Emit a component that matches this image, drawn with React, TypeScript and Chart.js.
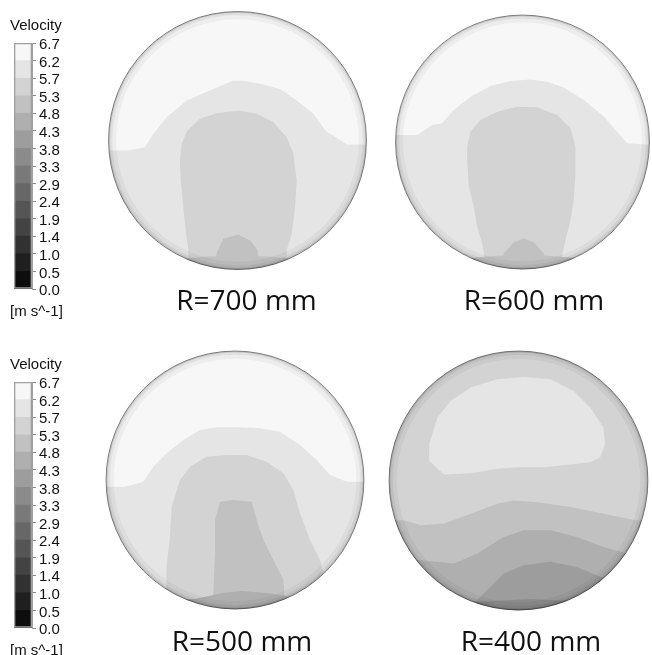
import React, { useEffect, useRef } from "react";
import { Chart, registerables } from "chart.js";

Chart.register(...registerables);

// ---------- colour bar data ----------
const levelValues = [0, 0.48, 0.96, 1.44, 1.91, 2.39, 2.87, 3.35, 3.83, 4.31, 4.79, 5.26, 5.74, 6.22, 6.7];
const tickLabels = ["0.0", "0.5", "1.0", "1.4", "1.9", "2.4", "2.9", "3.3", "3.8", "4.3", "4.8", "5.3", "5.7", "6.2", "6.7"];
const levelGreys = [13, 31, 49, 67, 85, 103, 121, 139, 157, 175, 193, 211, 229, 247];
const legendTitle = "Velocity";
const legendUnits = "[m s^-1]";

// ---------- contour data (unit-circle coordinates) ----------
type Pt = [number, number];

const panelLabels = ["R=700 mm", "R=600 mm", "R=500 mm", "R=400 mm"];
const panelBaseLevel = [12, 12, 12, 11];

const r700Crescent: Pt[] = [[-1.1, -0.078], [-0.846, -0.078], [-0.717, -0.052], [-0.652, 0.052], [-0.549, 0.181], [-0.394, 0.31], [-0.187, 0.4], [-0.032, 0.465], [0.071, 0.46], [0.174, 0.439], [0.329, 0.4], [0.459, 0.31], [0.588, 0.207], [0.691, 0.065], [0.743, 0.039], [0.846, -0.031], [1.1, -0.031], [1.1, 1.1], [-1.1, 1.1]];
const r700Head: Pt[] = [[-0.38, -1.1], [-0.381, -0.84], [-0.399, -0.724], [-0.42, -0.517], [-0.44, -0.31], [-0.446, -0.155], [-0.433, -0.026], [-0.389, 0.078], [-0.291, 0.168], [-0.161, 0.212], [0.006, 0.233], [0.149, 0.207], [0.278, 0.142], [0.381, 0.026], [0.433, -0.103], [0.459, -0.31], [0.446, -0.517], [0.42, -0.724], [0.381, -0.853], [0.38, -1.1]];
const r700Bump: Pt[] = [[-0.2, -1.1], [-0.161, -0.87], [-0.11, -0.762], [0.006, -0.728], [0.097, -0.775], [0.153, -0.845], [0.2, -1.1]];
const r700Bottom: Pt[] = [[-1.1, -0.96], [-0.45, -0.92], [-0.25, -0.9], [0, -0.895], [0.25, -0.9], [0.47, -0.92], [1.1, -0.96], [1.1, -1.1], [-1.1, -1.1]];

const r600Crescent: Pt[] = [[-1.1, 0.055], [-0.829, 0.055], [-0.711, 0.134], [-0.633, 0.147], [-0.541, 0.252], [-0.409, 0.357], [-0.252, 0.441], [-0.094, 0.48], [0.063, 0.493], [0.194, 0.475], [0.325, 0.43], [0.483, 0.331], [0.64, 0.2], [0.745, 0.081], [0.824, -0.01], [1.1, -0.03], [1.1, 1.1], [-1.1, 1.1]];
const r600Head: Pt[] = [[-0.29, -1.1], [-0.3, -0.9], [-0.318, -0.798], [-0.357, -0.667], [-0.383, -0.509], [-0.423, -0.352], [-0.436, -0.142], [-0.436, -0.037], [-0.41, 0.08], [-0.331, 0.173], [-0.199, 0.239], [-0.042, 0.278], [0.115, 0.273], [0.273, 0.213], [0.378, 0.108], [0.417, -0.037], [0.417, -0.247], [0.404, -0.457], [0.378, -0.614], [0.339, -0.772], [0.31, -0.9], [0.3, -1.1]];
const r600Bump: Pt[] = [[-0.2, -1.1], [-0.147, -0.877], [-0.068, -0.79], [0.01, -0.759], [0.089, -0.79], [0.168, -0.877], [0.22, -1.1]];
const r600Bottom: Pt[] = [[-1.1, -0.95], [-0.45, -0.915], [-0.2, -0.895], [0, -0.89], [0.2, -0.895], [0.45, -0.915], [1.1, -0.95], [1.1, -1.1], [-1.1, -1.1]];

const r500Crescent: Pt[] = [[-1.1, -0.052], [-0.853, -0.052], [-0.711, -0.013], [-0.633, 0.103], [-0.53, 0.207], [-0.401, 0.31], [-0.271, 0.388], [-0.142, 0.408], [0.039, 0.408], [0.194, 0.401], [0.349, 0.375], [0.504, 0.271], [0.633, 0.155], [0.736, 0.039], [0.866, -0.013], [1.1, -0.013], [1.1, 1.1], [-1.1, 1.1]];
const r500Arch: Pt[] = [[-0.54, -1.1], [-0.53, -0.672], [-0.504, -0.439], [-0.491, -0.207], [-0.426, 0], [-0.349, 0.103], [-0.22, 0.181], [-0.065, 0.194], [0.09, 0.194], [0.245, 0.142], [0.375, 0.052], [0.452, -0.078], [0.504, -0.258], [0.581, -0.465], [0.659, -0.62], [0.685, -0.724], [0.7, -1.1]];
const r500Tongue: Pt[] = [[-0.17, -1.1], [-0.168, -0.879], [-0.155, -0.568], [-0.155, -0.31], [-0.116, -0.168], [-0.013, -0.155], [0.129, -0.168], [0.168, -0.31], [0.22, -0.465], [0.297, -0.62], [0.375, -0.775], [0.4, -1.1]];
const r500Bottom: Pt[] = [[-1.1, -0.97], [-0.3, -0.92], [-0.1, -0.875], [0.05, -0.86], [0.25, -0.875], [0.45, -0.91], [1.1, -0.96], [1.1, -1.1], [-1.1, -1.1]];

const r400Cap: Pt[] = [[-0.69, 0.154], [-0.69, 0.282], [-0.626, 0.487], [-0.523, 0.615], [-0.369, 0.718], [-0.164, 0.782], [0.041, 0.8], [0.246, 0.782], [0.426, 0.692], [0.554, 0.564], [0.656, 0.41], [0.669, 0.282], [0.631, 0.179], [0.554, 0.141], [0.4, 0.123], [0.195, 0.103], [-0.01, 0.103], [-0.164, 0.09], [-0.369, 0.056], [-0.574, 0.046], [-0.638, 0.103]];
const r400Band1: Pt[] = [[-1.1, -0.3], [-0.882, -0.308], [-0.754, -0.346], [-0.574, -0.333], [-0.369, -0.256], [-0.164, -0.179], [-0.036, -0.154], [0.144, -0.167], [0.4, -0.205], [0.656, -0.256], [0.913, -0.308], [1.1, -0.31], [1.1, -1.1], [-1.1, -1.1]];
const r400Band2: Pt[] = [[-1.1, -0.6], [-0.754, -0.615], [-0.497, -0.641], [-0.318, -0.564], [-0.113, -0.436], [0.041, -0.385], [0.246, -0.385], [0.451, -0.436], [0.656, -0.513], [0.836, -0.564], [1.1, -0.6], [1.1, -1.1], [-1.1, -1.1]];
const r400Band3: Pt[] = [[-0.5, -1.1], [-0.215, -0.821], [-0.113, -0.718], [0.041, -0.654], [0.246, -0.628], [0.451, -0.667], [0.631, -0.744], [0.8, -0.8], [1.1, -1.1]];
const r400Band4: Pt[] = [[-1.1, -0.97], [-0.2, -0.93], [0.1, -0.915], [0.4, -0.93], [1.1, -0.97], [1.1, -1.1], [-1.1, -1.1]];

const panelRegions: { level: number; pts: Pt[] }[][] = [
  [{ level: 13, pts: r700Crescent }, { level: 11, pts: r700Head }, { level: 10, pts: r700Bottom }, { level: 10, pts: r700Bump }],
  [{ level: 13, pts: r600Crescent }, { level: 11, pts: r600Head }, { level: 10, pts: r600Bottom }, { level: 10, pts: r600Bump }],
  [{ level: 13, pts: r500Crescent }, { level: 11, pts: r500Arch }, { level: 10, pts: r500Tongue }, { level: 9, pts: r500Bottom }],
  [{ level: 12, pts: r400Cap }, { level: 10, pts: r400Band1 }, { level: 9, pts: r400Band2 }, { level: 8, pts: r400Band3 }, { level: 7, pts: r400Band4 }],
];

// ---------- styling / layout ----------
const rimInner = [0.94, 0.97, 0.988, 0.996];
const rimOuter = [0.97, 0.988, 0.996, 1.003];
const rimAlpha = [0.04, 0.09, 0.2, 0.55];

const panelGeom = [
  { cx: 237.5, cy: 140.5, rp: 129, lx: 246.5, ly: 301.5 },
  { cx: 522.5, cy: 142, rp: 127, lx: 534, ly: 301.5 },
  { cx: 235, cy: 480, rp: 129, lx: 242, ly: 643 },
  { cx: 518.5, cy: 480.5, rp: 129.5, lx: 531, ly: 643 },
];

const grey = (k: number) => `rgb(${levelGreys[k]},${levelGreys[k]},${levelGreys[k]})`;
const legendFont = "'Liberation Sans', Arial, sans-serif";
const labelFont = "'Open Sans', sans-serif";

function Panel({ idx }: { idx: number }) {
  const ref = useRef<HTMLCanvasElement>(null);
  const g = panelGeom[idx];
  const margin = 6;
  const left = Math.round(g.cx - g.rp - margin);
  const top = Math.round(g.cy - g.rp - margin);
  const W = Math.round(2 * (g.lx - left));
  const H = Math.round(2 * (g.cy - top));
  const lineH = 30;
  const pt = Math.round(g.ly - (top + H) - lineH / 2);
  const canvasH = H + pt + lineH;

  useEffect(() => {
    const px = (chart: any, r: number) => {
      const s = chart.scales.x;
      return Math.abs(s.getPixelForValue(r) - s.getPixelForValue(0));
    };
    const center = [{ x: 0, y: 0 }];
    const drawOrder: any[] = [];
    drawOrder.push({
      data: center,
      showLine: false,
      pointRadius: (c: any) => px(c.chart, 1.0),
      pointBackgroundColor: grey(panelBaseLevel[idx]),
      pointBorderWidth: 0,
      pointBorderColor: "rgba(0,0,0,0)",
      clip: 0,
    });
    panelRegions[idx].forEach((reg) => {
      drawOrder.push({
        data: reg.pts.map(([x, y]) => ({ x, y })),
        showLine: true,
        fill: "shape",
        backgroundColor: grey(reg.level),
        borderColor: "rgba(0,0,0,0)",
        borderWidth: 0,
        pointRadius: 0,
        tension: 0,
        clip: 0,
      });
    });
    // white mask outside the pipe wall
    drawOrder.push({
      data: center,
      showLine: false,
      pointRadius: (c: any) => px(c.chart, (1.003 + 2.6) / 2),
      pointBorderWidth: (c: any) => px(c.chart, 2.6 - 1.003),
      pointBorderColor: "#ffffff",
      pointBackgroundColor: "rgba(0,0,0,0)",
      clip: 0,
    });
    rimInner.forEach((ri, i) => {
      const ro = rimOuter[i];
      drawOrder.push({
        data: center,
        showLine: false,
        pointRadius: (c: any) => px(c.chart, (ri + ro) / 2),
        pointBorderWidth: (c: any) => px(c.chart, ro - ri),
        pointBorderColor: `rgba(0,0,0,${rimAlpha[i]})`,
        pointBackgroundColor: "rgba(0,0,0,0)",
        clip: 0,
      });
    });

    const chart = new Chart(ref.current as HTMLCanvasElement, {
      type: "scatter",
      data: { datasets: drawOrder.slice().reverse() },
      options: {
        animation: false,
        responsive: false,
        devicePixelRatio: 1,
        events: [],
        layout: { padding: 0 },
        scales: {
          x: { type: "linear", display: false, min: (left - g.cx) / g.rp, max: (left + W - g.cx) / g.rp },
          y: { type: "linear", display: false, min: (g.cy - (top + H)) / g.rp, max: (g.cy - top) / g.rp },
        },
        plugins: {
          legend: { display: false },
          tooltip: { enabled: false },
          title: {
            display: true,
            text: panelLabels[idx],
            position: "bottom",
            align: "center",
            color: "#111111",
            font: { family: labelFont, size: 28, weight: "normal", lineHeight: "30px" },
            padding: { top: pt, bottom: 0 },
          },
        },
      } as any,
    });
    return () => chart.destroy();
  }, []);

  return (
    <canvas
      ref={ref}
      width={W}
      height={canvasH}
      style={{ position: "absolute", left, top, width: W, height: canvasH }}
    />
  );
}

function ColorBar({ top }: { top: number }) {
  const ref = useRef<HTMLCanvasElement>(null);
  const width = 92;
  const height = 321;
  useEffect(() => {
    const datasets: any[] = [];
    datasets.push({
      data: [[levelValues[0], levelValues[levelValues.length - 1]]],
      backgroundColor: "rgba(0,0,0,0)",
      borderColor: "#a0a0a0",
      borderWidth: 1,
      borderSkipped: false,
      grouped: false,
      barPercentage: 1,
      categoryPercentage: 1,
      yAxisID: "y",
    });
    for (let i = 0; i < levelGreys.length; i++) {
      datasets.push({
        data: [[levelValues[i], levelValues[i + 1]]],
        backgroundColor: grey(i),
        borderWidth: 0,
        grouped: false,
        barPercentage: 1,
        categoryPercentage: 1,
        yAxisID: "y",
      });
    }
    const chart = new Chart(ref.current as HTMLCanvasElement, {
      type: "bar",
      data: { labels: [legendTitle], datasets },
      options: {
        animation: false,
        responsive: false,
        devicePixelRatio: 1,
        events: [],
        layout: { padding: { left: 10, right: 0, top: 0, bottom: 0 } },
        scales: {
          x: { display: false },
          y: {
            type: "linear",
            position: "right",
            min: levelValues[0],
            max: levelValues[levelValues.length - 1],
            afterBuildTicks: (s: any) => {
              s.ticks = levelValues.map((v) => ({ value: v }));
            },
            afterFit: (s: any) => {
              s.width = 60;
            },
            ticks: {
              autoSkip: false,
              callback: (_v: any, i: number) => tickLabels[i],
              color: "#111111",
              font: { family: legendFont, size: 15 },
              padding: 3,
              labelOffset: 2,
            },
            grid: { drawOnChartArea: false, drawTicks: true, tickLength: 4, color: "#888888" },
            border: { display: true, color: "#a0a0a0" },
          },
          yl: {
            type: "linear",
            position: "left",
            display: true,
            ticks: { display: false },
            grid: { display: false },
            border: { display: false },
            afterFit: (s: any) => {
              s.width = 4;
            },
          },
        },
        plugins: {
          legend: { display: false },
          tooltip: { enabled: false },
          title: {
            display: true,
            text: legendTitle,
            position: "top",
            align: "start",
            color: "#111111",
            font: { family: legendFont, size: 15, weight: "normal", lineHeight: "18px" },
            padding: { top: 17, bottom: 8 },
          },
          subtitle: {
            display: true,
            text: legendUnits,
            position: "bottom",
            align: "start",
            color: "#111111",
            font: { family: legendFont, size: 15, weight: "normal", lineHeight: "18px" },
            padding: { top: 14, bottom: 0 },
          },
        },
      } as any,
    });
    return () => chart.destroy();
  }, []);
  return (
    <canvas
      ref={ref}
      width={width}
      height={height}
      style={{ position: "absolute", left: 0, top, width, height }}
    />
  );
}

export default function App() {
  return (
    <div
      style={{
        position: "fixed",
        left: 0,
        top: 0,
        width: 652,
        height: 655,
        overflow: "hidden",
        background: "#ffffff",
      }}
    >
      <ColorBar top={0} />
      <ColorBar top={339} />
      <Panel idx={0} />
      <Panel idx={1} />
      <Panel idx={2} />
      <Panel idx={3} />
    </div>
  );
}
